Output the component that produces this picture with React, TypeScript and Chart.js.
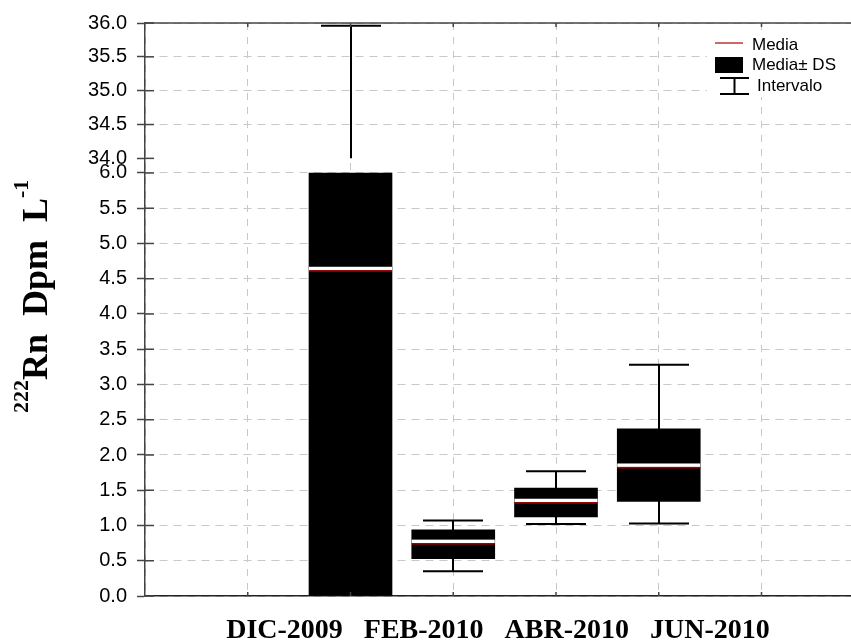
import React, { useEffect, useRef } from 'react';
import { Chart, registerables } from 'chart.js';

Chart.register(...registerables);

// ---- data ----
const categories = ['DIC-2009', 'FEB-2010', 'ABR-2010', 'JUN-2010'];
const xSlots = [2, 3, 4, 5]; // category slot on the x axis
const means = [4.61, 0.74, 1.32, 1.82];
const meanMinusSD = [-4.9, 0.53, 1.12, 1.34]; // DIC box runs past both ends of the lower panel
const meanPlusSD = [14.1, 0.94, 1.53, 2.37];
const minima = [0.3, 0.35, 1.02, 1.03];
const maxima = [35.96, 1.07, 1.77, 3.28];
const lowerTicks = [0, 0.5, 1, 1.5, 2, 2.5, 3, 3.5, 4, 4.5, 5, 5.5, 6];
const upperTicks = [34, 34.5, 35, 35.5, 36];
const xGridTicks = [0, 1, 2, 3, 4, 5, 6];
const legendLabels = ['Media', 'Media\u00b1 DS', 'Intervalo'];
const yTitleParts = [
  { text: '222', sup: true },
  { text: 'Rn  Dpm  L', sup: false },
  { text: '-1', sup: true },
];

// ---- broken axis mapping ----
const LOW_MAX = 6;
const HIGH_MIN = 34;
const HIGH_MAX = 36;
const GAP = 0.207;
const K = 0.96;
const f = (v: number) => (v <= LOW_MAX ? v : LOW_MAX + GAP + (v - HIGH_MIN) * K);
const finv = (d: number) => (d <= LOW_MAX + 1e-9 ? d : HIGH_MIN + (d - LOW_MAX - GAP) / K);
const Y_MAX = f(HIGH_MAX);
const X_MAX = 6.871;
const clamp = (v: number, a: number, b: number) => Math.max(a, Math.min(b, v));
const visible = (v: number) => (v >= 0 && v <= LOW_MAX) || (v >= HIGH_MIN && v <= HIGH_MAX);

const BOX_W = 83;
const CAP_W = 60;

const extras = {
  id: 'boxExtras',
  beforeDatasetsDraw(chart: any) {
    const { ctx, scales } = chart;
    const x = scales.x;
    const y = scales.y;
    ctx.save();
    ctx.strokeStyle = '#000';
    ctx.lineWidth = 2;
    const line = (x1: number, y1: number, x2: number, y2: number) => {
      ctx.beginPath();
      ctx.moveTo(x1, y1);
      ctx.lineTo(x2, y2);
      ctx.stroke();
    };
    categories.forEach((_, i) => {
      const px = Math.round(x.getPixelForValue(xSlots[i]));
      const lo = minima[i];
      const hi = maxima[i];
      const segs: number[][] = [];
      const a = clamp(lo, 0, LOW_MAX);
      const b = clamp(hi, 0, LOW_MAX);
      if (b > a) segs.push([a, b]);
      if (hi > HIGH_MIN) segs.push([Math.max(lo, HIGH_MIN), Math.min(hi, HIGH_MAX)]);
      segs.forEach(([s, e]) => line(px, y.getPixelForValue(f(s)), px, y.getPixelForValue(f(e))));
      [lo, hi].forEach((v) => {
        if (visible(v)) {
          const py = y.getPixelForValue(f(v));
          line(px - CAP_W / 2, py, px + CAP_W / 2, py);
        }
      });
    });
    ctx.restore();
  },
  afterDatasetsDraw(chart: any) {
    const { ctx, scales, chartArea } = chart;
    const x = scales.x;
    const y = scales.y;
    ctx.save();
    // mean markers
    categories.forEach((_, i) => {
      const m = means[i];
      if (!visible(m)) return;
      const px = x.getPixelForValue(xSlots[i]);
      const py = y.getPixelForValue(f(m));
      ctx.fillStyle = '#ffffff';
      ctx.fillRect(px - BOX_W / 2, py - 4.2, BOX_W, 3.5);
      ctx.fillStyle = '#a00000';
      ctx.fillRect(px - BOX_W / 2, py - 0.8, BOX_W, 1.6);
    });

    // frame: top border and inward ticks
    ctx.strokeStyle = '#444';
    ctx.lineWidth = 1.5;
    ctx.beginPath();
    ctx.moveTo(chartArea.left, chartArea.top);
    ctx.lineTo(chartArea.right, chartArea.top);
    ctx.stroke();
    y.ticks.forEach((t: any) => {
      const py = y.getPixelForValue(t.value);
      ctx.beginPath();
      ctx.moveTo(chartArea.left, py);
      ctx.lineTo(chartArea.left + 9, py);
      ctx.stroke();
    });
    x.ticks.forEach((t: any) => {
      const px = x.getPixelForValue(t.value);
      if (px <= chartArea.left + 1) return;
      ctx.beginPath();
      ctx.moveTo(px, chartArea.bottom);
      ctx.lineTo(px, chartArea.bottom - 4);
      ctx.moveTo(px, chartArea.top);
      ctx.lineTo(px, chartArea.top + 4);
      ctx.stroke();
    });

    // legend
    const lx = chartArea.right - 136;
    const ly = chartArea.top;
    ctx.fillStyle = '#ffffff';
    ctx.fillRect(lx - 8, ly + 14, 152, 60);
    ctx.strokeStyle = '#b00000';
    ctx.lineWidth = 1.2;
    ctx.beginPath();
    ctx.moveTo(lx, ly + 20);
    ctx.lineTo(lx + 28, ly + 20);
    ctx.stroke();
    ctx.fillStyle = '#000';
    ctx.fillRect(lx, ly + 34, 28, 16);
    ctx.strokeStyle = '#000';
    ctx.lineWidth = 2;
    ctx.beginPath();
    ctx.moveTo(lx + 5, ly + 55);
    ctx.lineTo(lx + 34, ly + 55);
    ctx.moveTo(lx + 5, ly + 71);
    ctx.lineTo(lx + 34, ly + 71);
    ctx.moveTo(lx + 19.5, ly + 55);
    ctx.lineTo(lx + 19.5, ly + 71);
    ctx.stroke();
    ctx.font = '17px "Liberation Sans", Arial, sans-serif';
    ctx.textBaseline = 'middle';
    ctx.textAlign = 'left';
    ctx.fillStyle = '#000';
    ctx.fillText(legendLabels[0], lx + 37, ly + 22);
    ctx.fillText(legendLabels[1], lx + 37, ly + 42);
    ctx.fillText(legendLabels[2], lx + 42, ly + 63);

    // y axis title (rotated, with superscripts)
    ctx.translate(47, 413);
    ctx.rotate(-Math.PI / 2);
    ctx.textBaseline = 'alphabetic';
    let cx = 0;
    yTitleParts.forEach((p) => {
      ctx.font = p.sup
        ? 'bold 22px "Liberation Serif", "Times New Roman", serif'
        : 'bold 36px "Liberation Serif", "Times New Roman", serif';
      const dy = p.sup ? -19 : 0;
      ctx.fillText(p.text, cx, dy);
      cx += ctx.measureText(p.text).width;
    });
    ctx.restore();
  },
};

export default function App() {
  const ref = useRef<HTMLCanvasElement | null>(null);
  useEffect(() => {
    document.body.style.margin = '0';
    const canvas = ref.current;
    if (!canvas) return;
    const boxData = categories.map((_, i) => ({
      x: xSlots[i],
      y: [f(clamp(meanMinusSD[i], 0, LOW_MAX)), f(clamp(meanPlusSD[i], 0, LOW_MAX))],
    }));
    const chart = new Chart(canvas, {
      type: 'bar',
      data: {
        datasets: [
          {
            label: legendLabels[1],
            data: boxData as any,
            backgroundColor: '#000000',
            borderWidth: 0,
            barThickness: BOX_W,
            grouped: false,
          } as any,
        ],
      },
      plugins: [extras],
      options: {
        responsive: false,
        animation: false,
        devicePixelRatio: 1,
        layout: { padding: { top: 23, right: 0, left: 0, bottom: 0 } },
        plugins: {
          legend: { display: false },
          tooltip: { enabled: false },
        },
        scales: {
          x: {
            type: 'linear',
            min: 0,
            max: X_MAX,
            offset: false,
            afterBuildTicks: (scale: any) => {
              scale.ticks = xGridTicks.map((v) => ({ value: v }));
            },
            afterFit: (scale: any) => {
              scale.height = 47;
            },
            ticks: { display: false },
            grid: {
              offset: false,
              color: '#c8c8c8',
              lineWidth: 1,
              drawTicks: false,
            },
            border: { display: true, color: '#222', width: 1.5, dash: [7, 7] },
            title: {
              display: true,
              text: categories.join('   '),
              color: '#000',
              padding: 0,
              font: { family: '"Liberation Serif", "Times New Roman", serif', size: 28, weight: 'bold', lineHeight: 0.85 },
            },
          },
          y: {
            type: 'linear',
            min: 0,
            max: Y_MAX,
            afterBuildTicks: (scale: any) => {
              scale.ticks = [...lowerTicks.map((v) => ({ value: v })), ...upperTicks.map((v) => ({ value: f(v) }))];
            },
            afterFit: (scale: any) => {
              scale.width = 145;
            },
            ticks: {
              autoSkip: false,
              padding: 10,
              color: '#000',
              font: { family: '"Liberation Sans", Arial, sans-serif', size: 20 },
              callback: (v: any) => finv(Number(v)).toFixed(1),
            },
            grid: {
              color: (c: any) => {
                const val = c.tick ? c.tick.value : 0;
                if (Math.abs(val - f(HIGH_MIN)) < 1e-6) return 'rgba(0,0,0,0)';
                return '#c8c8c8';
              },
              lineWidth: 1,
              drawTicks: true,
              tickLength: 8,
              tickColor: '#444',
              tickWidth: 1.5,
              tickBorderDash: [],
            },
            border: { display: true, color: '#444', width: 1.5, dash: [8, 6] },
          },
        },
      } as any,
    });
    return () => chart.destroy();
  }, []);
  return <canvas ref={ref} width={851} height={643} style={{ display: 'block', width: 851, height: 643 }} />;
}
